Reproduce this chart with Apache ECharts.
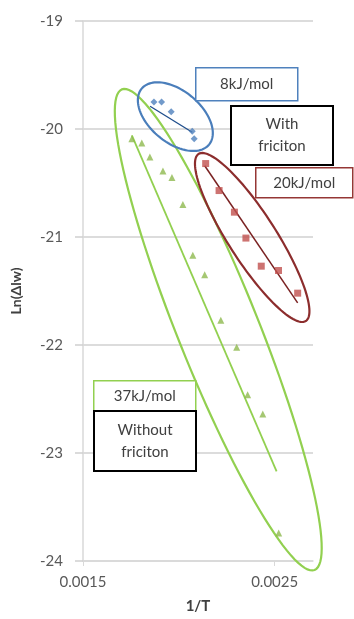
<!DOCTYPE html>
<html>
<head>
<meta charset="utf-8">
<script src="https://cdn.jsdelivr.net/npm/echarts@6/dist/echarts.min.js"></script>
<style>html,body{margin:0;padding:0;background:#fff}#c{width:354px;height:619px}</style>
</head>
<body>
<div id="c"></div>
<script>
// ---- data ----
var xTicks = [0.0015, 0.0025];
var yTicks = [-24, -23, -22, -21, -20, -19];

var blueX = [0.00187, 0.00191, 0.00196, 0.00207, 0.00208];
var blueY = [-19.75, -19.75, -19.84, -20.02, -20.09];

var redX = [0.00214, 0.00221, 0.00229, 0.00235, 0.00243, 0.00252, 0.00262];
var redY = [-20.32, -20.57, -20.77, -21.01, -21.27, -21.31, -21.52];

var greenX = [0.001755, 0.001807, 0.001849, 0.001917, 0.001964, 0.002021, 0.002073, 0.002135, 0.002219, 0.002302, 0.002359, 0.002438, 0.002521];
var greenY = [-20.09, -20.13, -20.26, -20.39, -20.45, -20.70, -21.17, -21.35, -21.77, -22.02, -22.46, -22.64, -23.74];

// trend line end points [x1, y1, x2, y2]
var blueTrend = [0.00185, -19.79, 0.00207, -20.03];
var redTrend = [0.002135, -20.34, 0.00262, -21.61];
var greenTrend = [0.001755, -20.06, 0.00251, -23.17];

// ellipse annotations: major-axis tips [x1, y1, x2, y2] and minor/major ratio
var blueEllipse = [0.0018063, -19.626, 0.0021573, -20.145, 0.59];
var redEllipse = [0.0021031, -20.231, 0.0026625, -21.778, 0.24];
var greenEllipse = [0.0017031, -19.633, 0.0027083, -24.083, 0.157];

var labels = ['8kJ/mol', 'With\nfriciton', '20kJ/mol', '37kJ/mol', 'Without\nfriciton'];

// ---- build ----
function pairs(xs, ys) { return xs.map(function (x, i) { return [x, ys[i]]; }); }
function trend(t) { return [[t[0], t[1]], [t[2], t[3]]]; }

function ellipseSeries(e, color) {
  return {
    type: 'custom', clip: false, silent: true, z: 3,
    data: [e],
    encode: { x: [0, 2], y: [1, 3] },
    renderItem: function (params, api) {
      var p1 = api.coord([api.value(0), api.value(1)]);
      var p2 = api.coord([api.value(2), api.value(3)]);
      var r = api.value(4);
      var cx = (p1[0] + p2[0]) / 2, cy = (p1[1] + p2[1]) / 2;
      var dx = (p2[0] - p1[0]) / 2, dy = (p2[1] - p1[1]) / 2;
      var a = Math.sqrt(dx * dx + dy * dy), th = Math.atan2(dy, dx), b = a * r;
      var pts = [];
      for (var i = 0; i < 120; i++) {
        var t = i / 120 * 2 * Math.PI;
        var ex = a * Math.cos(t), ey = b * Math.sin(t);
        pts.push([cx + ex * Math.cos(th) - ey * Math.sin(th), cy + ex * Math.sin(th) + ey * Math.cos(th)]);
      }
      return { type: 'polygon', shape: { points: pts }, style: { fill: 'none', stroke: color, lineWidth: 2.2 } };
    }
  };
}

var FONT = 'Lato';
function box(x, y, w, h, stroke, lw, text) {
  return {
    type: 'group', left: x, top: y, z: 100,
    children: [
      { type: 'rect', z: 100, shape: { x: 0, y: 0, width: w, height: h }, style: { fill: '#fff', stroke: stroke, lineWidth: lw } },
      { type: 'text', z: 101, x: w / 2, y: h / 2, style: { text: text, fill: '#404040', font: '15px ' + FONT, align: 'center', verticalAlign: 'middle', lineHeight: 22 } }
    ]
  };
}

var chart = echarts.init(document.getElementById('c'));
chart.setOption({
  backgroundColor: '#fff',
  animation: false,
  grid: { left: 83, right: 41, top: 21, bottom: 52 },
  xAxis: {
    type: 'value', min: 0.0015, max: 0.0027, interval: 0.001,
    name: '1/T', nameLocation: 'middle', nameGap: 38,
    nameTextStyle: { fontFamily: FONT, fontSize: 15, fontWeight: 'bold', color: '#404040' },
    axisLine: { show: true, lineStyle: { color: '#d9d9d9', width: 1.5 } },
    axisTick: { show: true, length: 5, customValues: xTicks, lineStyle: { color: '#d9d9d9' } },
    axisLabel: { customValues: xTicks, margin: 14, fontFamily: FONT, fontSize: 15, color: '#595959', formatter: function (v) { return v.toFixed(4); } },
    splitLine: { show: false }
  },
  yAxis: {
    type: 'value', min: -24, max: -19, interval: 1,
    name: 'Ln(\u0394lw)', nameLocation: 'middle', nameGap: 60,
    nameTextStyle: { fontFamily: FONT, fontSize: 14, fontWeight: 'bold', color: '#404040' },
    axisLine: { show: true, lineStyle: { color: '#d9d9d9', width: 1.5 } },
    axisTick: { show: true, length: 8, lineStyle: { color: '#d0d0d0', width: 1.5 } },
    axisLabel: { margin: 20, fontFamily: FONT, fontSize: 15, color: '#595959' },
    splitLine: { show: true, lineStyle: { color: '#d0d0d0', width: 1.5 } }
  },
  series: [
    ellipseSeries(greenEllipse, '#92d050'),
    ellipseSeries(blueEllipse, '#4a7ebb'),
    ellipseSeries(redEllipse, '#8c2d2d'),
    { type: 'line', data: trend(greenTrend), symbol: 'none', lineStyle: { color: '#92d050', width: 1.8 }, z: 4 },
    { type: 'line', data: trend(blueTrend), symbol: 'none', lineStyle: { color: '#1f4e8c', width: 1.3 }, z: 4 },
    { type: 'line', data: trend(redTrend), symbol: 'none', lineStyle: { color: '#7a2222', width: 1.5 }, z: 4 },
    { type: 'scatter', data: pairs(greenX, greenY), symbol: 'triangle', symbolSize: 7, itemStyle: { color: '#8fb94f' }, z: 5 },
    { type: 'scatter', data: pairs(blueX, blueY), symbol: 'diamond', symbolSize: 7, itemStyle: { color: '#4f81bd' }, z: 5 },
    { type: 'scatter', data: pairs(redX, redY), symbol: 'rect', symbolSize: 7, itemStyle: { color: '#c0504d' }, z: 5 }
  ],
  graphic: [
    box(195, 67, 102, 33, '#4f81bd', 1.5, labels[0]),
    box(230, 105, 102, 59, '#000', 2, labels[1]),
    box(255, 167, 97, 30, '#953735', 1.5, labels[2]),
    box(93, 380, 102, 30, '#92d050', 1.5, labels[3]),
    box(93, 410, 102, 60, '#000', 2, labels[4])
  ]
});
</script>
</body>
</html>
